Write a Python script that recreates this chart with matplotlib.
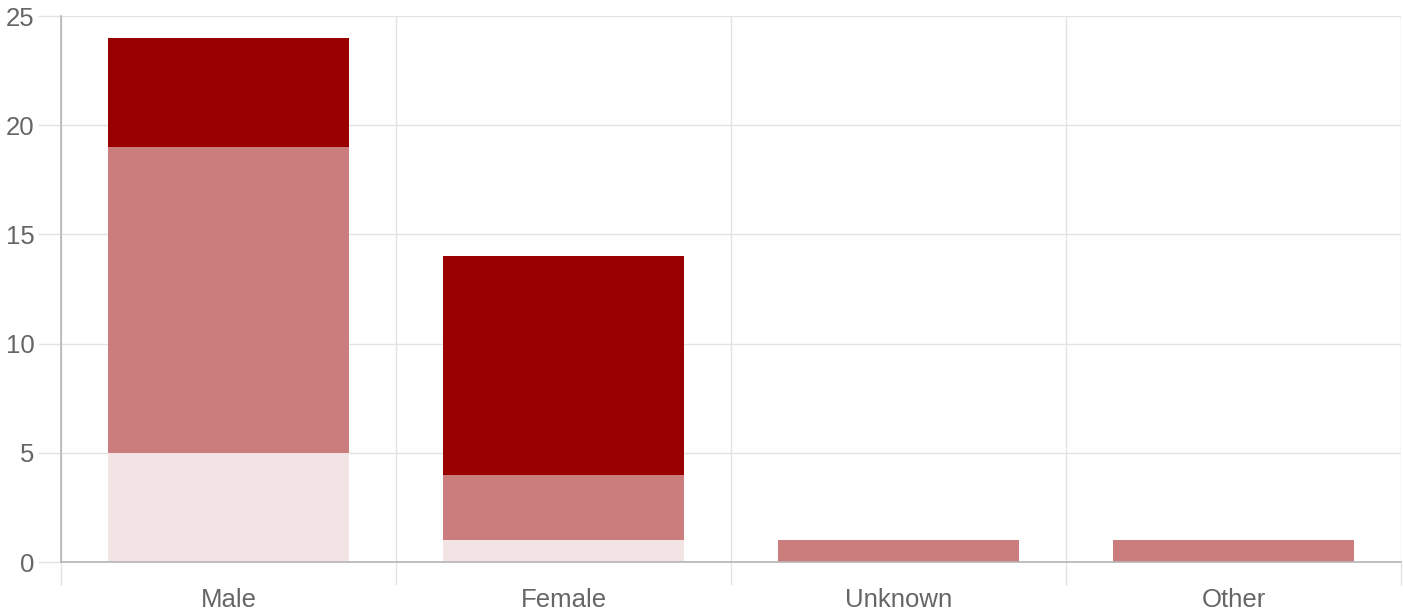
import numpy as np
import matplotlib.pyplot as plt

# 数据
categories = ["Male", "Female", "Unknown", "Other"]
series_light = [5, 1, 0, 0]
series_mid = [14, 3, 1, 1]
series_dark = [5, 10, 0, 0]
y_ticks = [0, 5, 10, 15, 20, 25]

plt.rcParams['font.family'] = ['Liberation Sans', 'DejaVu Sans']

fig = plt.figure(figsize=(14.03, 6.14), dpi=100)
ax = fig.add_axes([61 / 1403, 1 - 562 / 614, 1340 / 1403, 546 / 614])

x = np.arange(len(categories))
w = 0.72
light = np.array(series_light)
mid = np.array(series_mid)
dark = np.array(series_dark)

ax.bar(x, light, w, color="#f2e4e4", zorder=3)
ax.bar(x, mid, w, bottom=light, color="#cb7d7d", zorder=3)
ax.bar(x, dark, w, bottom=light + mid, color="#990000", zorder=3)

ax.set_xlim(-0.5, len(categories) - 0.5)
ax.set_ylim(0, 25)

# 刻度与网格（长度单位是磅）
grid_c = "#e3e3e3"
axis_c = "#b5b5b5"
ax.set_yticks(y_ticks)
ax.set_xticks(x)
ax.set_xticklabels(categories)
ax.set_xticks(np.arange(-0.5, len(categories)), minor=True)

ax.tick_params(axis='y', length=16.5, color=grid_c, width=1, labelsize=18.5,
               labelcolor="#666666", pad=2.5)
ax.tick_params(axis='x', which='major', length=0, labelsize=18.5,
               labelcolor="#666666", pad=18.5)
ax.tick_params(axis='x', which='minor', length=16.5, color=grid_c, width=1)

ax.grid(axis='y', color=grid_c, linewidth=1, zorder=0)
ax.grid(axis='x', which='minor', color=grid_c, linewidth=1, zorder=0)

ax.spines['top'].set_visible(False)
ax.spines['right'].set_visible(False)
ax.spines['left'].set_color(axis_c)
ax.spines['bottom'].set_color(axis_c)
ax.spines['left'].set_linewidth(1.2)
ax.spines['bottom'].set_linewidth(1.2)
ax.spines['left'].set_zorder(4)
ax.spines['bottom'].set_zorder(4)

fig.savefig("out.png", dpi=100)
